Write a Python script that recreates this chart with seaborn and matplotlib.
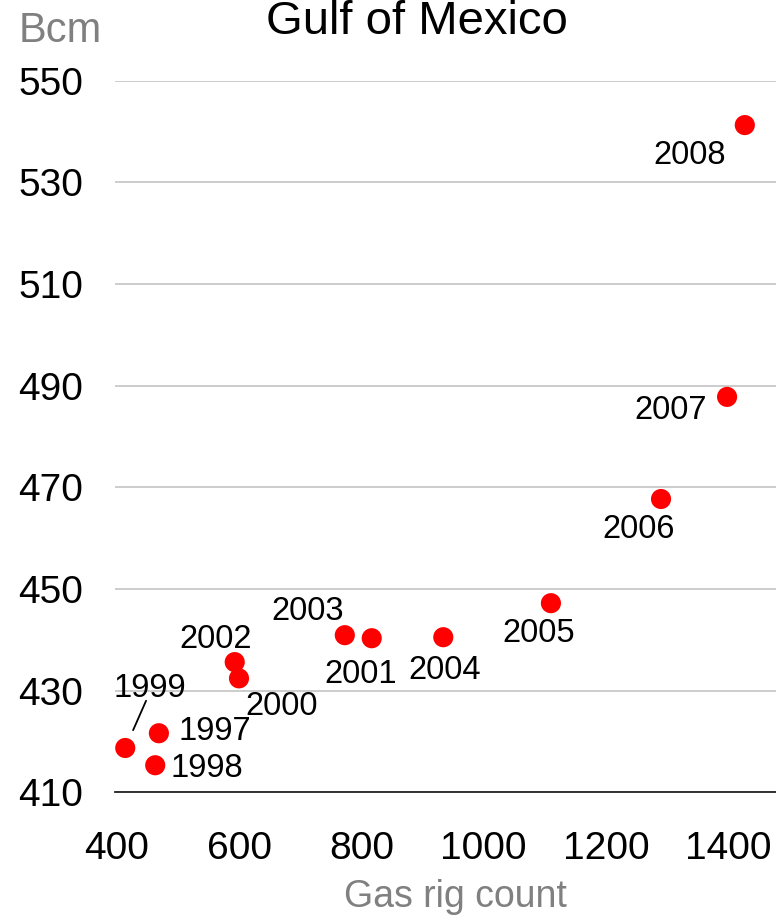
import pandas as pd
import seaborn as sns
import matplotlib.pyplot as plt

# data
years = ['1997', '1998', '1999', '2000', '2001', '2002', '2003', '2004', '2005', '2006', '2007', '2008']
rig_count = [469, 463, 414, 600, 817, 593, 773, 934, 1110, 1290, 1398, 1427]
bcm = [421.6, 415.3, 418.7, 432.4, 440.3, 435.6, 440.9, 440.5, 447.2, 467.7, 487.8, 541.3]

# label offsets (points) from each marker
label_dx = [40, 37, 18, 31, -8, -14, -27, 1, -9, -16, -41, -40]
label_dy = [1, -2, 43, -20, -26, 16, 17, -24, -22, -22, -10, -22]

data = pd.DataFrame({'year': years, 'rigs': rig_count, 'bcm': bcm})

sns.set_theme(style='white')
plt.rcParams['font.family'] = ['Liberation Sans', 'DejaVu Sans']
plt.rcParams['text.color'] = 'black'

fig = plt.figure(figsize=(7.76, 9.19), dpi=100)
ax = fig.add_axes([0.148, 0.138, 0.852, 0.774])

sns.scatterplot(data=data, x='rigs', y='bcm', color='#ff0000', s=210,
                edgecolor='none', ax=ax, zorder=3, clip_on=False)

ax.set_xlim(397, 1478)
ax.set_ylim(410, 550)
ax.set_xticks([400, 600, 800, 1000, 1200, 1400])
ax.set_yticks(range(410, 551, 20))
ax.tick_params(axis='both', length=0, labelsize=28, colors='black')
ax.tick_params(axis='x', pad=28)
ax.tick_params(axis='y', pad=23)
ax.yaxis.grid(True, color='#c4c4c4', linewidth=1.2)
ax.xaxis.grid(False)
for side in ['top', 'right', 'left']:
    ax.spines[side].set_visible(False)
ax.spines['bottom'].set_color('#222222')
ax.spines['bottom'].set_linewidth(1.3)
ax.set_xlabel('')
ax.set_ylabel('')
for lbl in ax.get_yticklabels():
    lbl.set_va('center_baseline')

for i, row in data.iterrows():
    ax.annotate(row['year'], (row['rigs'], row['bcm']),
                xytext=(label_dx[i], label_dy[i]), textcoords='offset points',
                ha='center', va='center', fontsize=23.5, color='black')
    if row['year'] == '1999':
        # leader line from the label down to its marker
        ax.annotate('', (row['rigs'], row['bcm']), xytext=(15, 34),
                    textcoords='offset points',
                    arrowprops=dict(arrowstyle='-', color='black', lw=1.3,
                                    shrinkA=0, shrinkB=14))

fig.text(417 / 776, 1 - 34 / 919, 'Gulf of Mexico', ha='center', va='baseline', fontsize=34, color='black')
fig.text(60 / 776, 1 - 31 / 919, 'Bcm', ha='center', va='center', fontsize=30, color='#808080')
fig.text(455 / 776, 1 - 907 / 919, 'Gas rig count', ha='center', va='baseline', fontsize=27, color='#808080')

fig.savefig('out.png', dpi=100)
